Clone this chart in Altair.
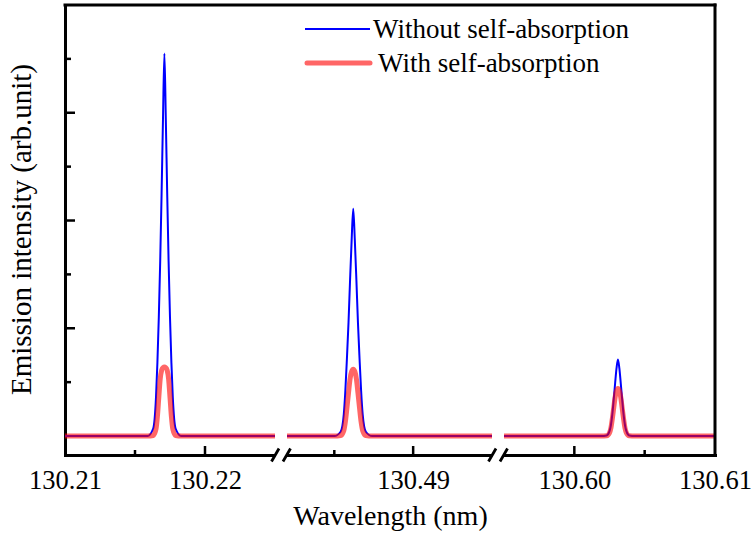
import altair as alt
import pandas as pd

# Series labels
series_names = ["Without self-absorption", "With self-absorption"]

# Three wavelength windows of the broken axis (nm)
wl_a = [130.2100, 130.2159, 130.2163, 130.2165, 130.2166, 130.2167, 130.2168,
        130.2169, 130.2170, 130.2171, 130.2172, 130.2173, 130.2174, 130.2175,
        130.2176, 130.2177, 130.2179, 130.2183, 130.2250]
wl_b = [130.4820, 130.4850, 130.4854, 130.4856, 130.4857, 130.4858, 130.4859,
        130.4860, 130.4861, 130.4862, 130.4863, 130.4864, 130.4865, 130.4866,
        130.4867, 130.4868, 130.4870, 130.4874, 130.4950]
wl_c = [130.5950, 130.6019, 130.6023, 130.6025, 130.6026, 130.6027, 130.6028,
        130.6029, 130.6030, 130.6031, 130.6032, 130.6033, 130.6034, 130.6035,
        130.6036, 130.6037, 130.6039, 130.6043, 130.6100]

# Emission intensity without self-absorption
free_a = [0, 0, 0.07, 0.36, 0.68, 1.10, 1.62, 2.25, 2.95, 3.55,
          2.95, 2.25, 1.62, 1.10, 0.68, 0.36, 0.07, 0, 0]
free_b = [0, 0, 0.04, 0.20, 0.42, 0.72, 1.05, 1.45, 1.82, 2.11,
          1.82, 1.45, 1.05, 0.72, 0.42, 0.20, 0.04, 0, 0]
free_c = [0, 0, 0.005, 0.045, 0.10, 0.20, 0.34, 0.49, 0.63, 0.71,
          0.63, 0.49, 0.34, 0.20, 0.10, 0.045, 0.005, 0, 0]

# Emission intensity with self-absorption
abs_a = [0, 0, 0.005, 0.065, 0.18, 0.36, 0.53, 0.61, 0.635, 0.64,
         0.635, 0.61, 0.53, 0.36, 0.18, 0.065, 0.005, 0, 0]
abs_b = [0, 0, 0.005, 0.05, 0.13, 0.26, 0.40, 0.53, 0.60, 0.62,
         0.60, 0.53, 0.40, 0.26, 0.13, 0.05, 0.005, 0, 0]
abs_c = [0, 0, 0.003, 0.03, 0.075, 0.16, 0.26, 0.36, 0.42, 0.44,
         0.42, 0.36, 0.26, 0.16, 0.075, 0.03, 0.003, 0, 0]

# Axis ticks
x_labels = [130.21, 130.22, 130.49, 130.60, 130.61]
x_major = [130.22, 130.49, 130.60]
x_minor = [130.215, 130.485, 130.605]
y_major = [1, 2, 3]
y_minor = [0.5, 1.5, 2.5, 3.5]

# Where the axis is broken (middle of each skipped wavelength range)
axis_breaks = [130.3535, 130.545]

rows = []
for seg, wl, free, absd in [("a", wl_a, free_a, abs_a),
                            ("b", wl_b, free_b, abs_b),
                            ("c", wl_c, free_c, abs_c)]:
    for w, f, s in zip(wl, free, absd):
        rows.append({"wavelength": w, "intensity": f, "series": series_names[0], "segment": seg})
        rows.append({"wavelength": w, "intensity": s, "series": series_names[1], "segment": seg})
df = pd.DataFrame(rows)

W, H = 650, 450
FONT = "Liberation Serif"
BLUE = "#0000ff"
RED = "#ff0000"

# Piecewise scale: each window gets its own stretch, the skipped ranges collapse
x_scale = alt.Scale(domain=[130.21, 130.225, 130.482, 130.495, 130.595, 130.61],
                    range=[0, 210, 222, 427, 439, W], zero=False, nice=False)
y_scale = alt.Scale(domain=[-0.176, 4.0], zero=False, nice=False)

x_axis = alt.Axis(values=x_labels, format=".2f", ticks=False, tickSize=0, grid=False,
                  labelFlush=False, labelOverlap=False, labelBound=False,
                  labelPadding=33, labelBaseline="alphabetic", labelFont=FONT,
                  labelFontSize=26.5, labelColor="black",
                  domainColor="black", domainWidth=3, domainCap="square",
                  title="Wavelength (nm)", titleX=W / 2, titleY=69,
                  titleAlign="center", titleBaseline="alphabetic", titleFont=FONT,
                  titleFontSize=28, titleFontWeight="normal", titleColor="black")
y_axis = alt.Axis(labels=False, ticks=False, tickSize=0, grid=False,
                  domainColor="black", domainWidth=3, domainCap="square",
                  title="Emission intensity (arb.unit)", titleX=-35, titleY=224,
                  titleAngle=270, titleAlign="center", titleBaseline="alphabetic",
                  titleFont=FONT, titleFontSize=29, titleFontWeight="normal",
                  titleColor="black")

# Encodings shared by every layer placed on the data scales
X = alt.X("wavelength:Q", scale=x_scale)
Y = alt.Y("intensity:Q", scale=y_scale)

base = alt.Chart(df)

line_free = base.transform_filter(alt.datum.series == series_names[0]).mark_line(
    color=BLUE, strokeWidth=2, interpolate="monotone"
).encode(
    x=alt.X("wavelength:Q", scale=x_scale, axis=x_axis),
    y=alt.Y("intensity:Q", scale=y_scale, axis=y_axis),
    detail="segment:N",
)

line_abs = base.transform_filter(alt.datum.series == series_names[1]).mark_line(
    color=RED, strokeWidth=5, opacity=0.6, interpolate="monotone", strokeJoin="round"
).encode(x=X, y=Y, detail="segment:N")

# Inward ticks
def x_ticks(values, length):
    return alt.Chart(pd.DataFrame({"wavelength": values})).mark_rule(
        color="black", strokeWidth=2.5
    ).encode(x=X, y=alt.value(H), y2=alt.value(H - length))

def y_ticks(values, length):
    return alt.Chart(pd.DataFrame({"intensity": values})).mark_rule(
        color="black", strokeWidth=2.5
    ).encode(y=Y, x=alt.value(0), x2=alt.value(length))

# Break symbols on the bottom axis
breaks_df = pd.DataFrame({"wavelength": axis_breaks})
break_gap = alt.Chart(breaks_df).mark_point(
    shape="square", filled=True, color="white", opacity=1, size=130, strokeWidth=0
).encode(x=X, y=alt.value(H))
break_marks = alt.Chart(breaks_df).mark_point(
    shape="M -0.95 0.65 L -0.2 -0.65 M 0.2 0.65 L 0.95 -0.65",
    filled=False, color="black", opacity=1, size=400, strokeWidth=2.8
).encode(x=X, y=alt.value(H))

# Top and right sides of the frame
one = pd.DataFrame({"k": [0]})
frame_top = alt.Chart(one).mark_rule(color="black", strokeWidth=3, strokeCap="square").encode(
    x=alt.value(0), x2=alt.value(W), y=alt.value(0))
frame_right = alt.Chart(one).mark_rule(color="black", strokeWidth=3, strokeCap="square").encode(
    x=alt.value(W), y=alt.value(0), y2=alt.value(H))

# Legend
leg_free_line = alt.Chart(one).mark_rule(color=BLUE, strokeWidth=2).encode(
    x=alt.value(240), x2=alt.value(305), y=alt.value(24))
leg_abs_line = alt.Chart(one).mark_rule(color=RED, strokeWidth=5, opacity=0.6, strokeCap="round").encode(
    x=alt.value(242), x2=alt.value(305), y=alt.value(58))
leg_free_text = alt.Chart(one).mark_text(
    text=series_names[0], font=FONT, fontSize=27, color="black", align="left", baseline="alphabetic"
).encode(x=alt.value(308), y=alt.value(33))
leg_abs_text = alt.Chart(one).mark_text(
    text=series_names[1], font=FONT, fontSize=27, color="black", align="left", baseline="alphabetic"
).encode(x=alt.value(313), y=alt.value(67))

chart = alt.layer(
    line_free, line_abs,
    x_ticks(x_major, 9), x_ticks(x_minor, 5),
    y_ticks(y_major, 10), y_ticks(y_minor, 6),
    break_gap, break_marks,
    frame_top, frame_right,
    leg_free_line, leg_abs_line, leg_free_text, leg_abs_text,
).properties(
    width=W, height=H,
    padding={"left": 65, "top": 5, "right": 37, "bottom": 78},
    autosize=alt.AutoSizeParams(type="none"),
    background="white",
).configure(
    font=FONT
).configure_axis(
    labelFont=FONT, titleFont=FONT, labelColor="black", titleColor="black",
    titleFontWeight="normal"
).configure_view(strokeWidth=0)

chart.save("out.html", embed_options={"renderer": "svg", "actions": False})
